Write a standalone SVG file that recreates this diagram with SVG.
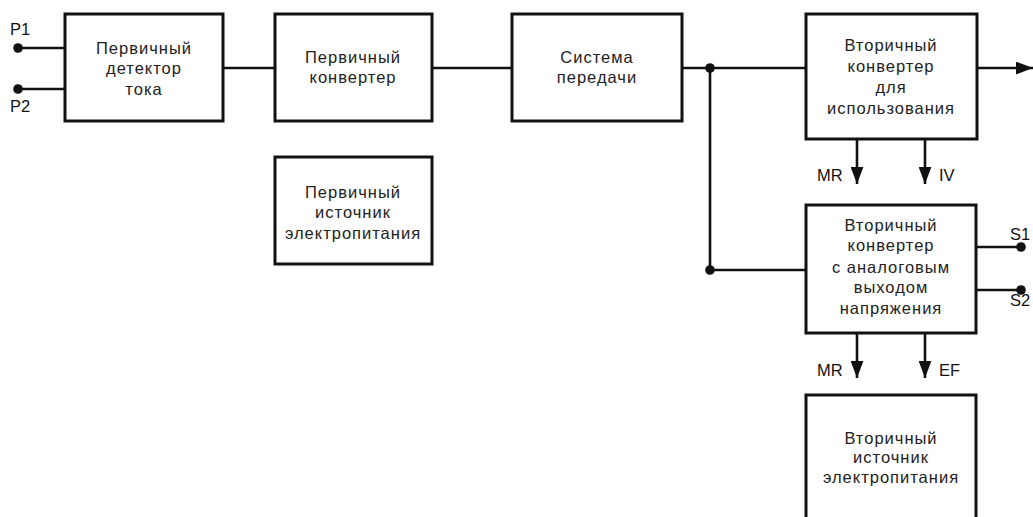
<svg xmlns="http://www.w3.org/2000/svg" width="1033" height="517" viewBox="0 0 1033 517">
<style>
.box{fill:#fff;stroke:#111;stroke-width:3}
.ln{fill:none;stroke:#111;stroke-width:2.6}
.t{font-family:"Liberation Sans",Arial,sans-serif;font-size:16.5px;fill:#222;text-anchor:middle;letter-spacing:1px}
.lb{font-family:"Liberation Sans",Arial,sans-serif;font-size:16.5px;fill:#111}
.dot{fill:#111}
</style>
<defs>
<marker id="ahd" viewBox="0 0 16 12" refX="16" refY="6" markerWidth="17" markerHeight="13" markerUnits="userSpaceOnUse" orient="auto">
<path d="M0,0 L16,6 L0,12 Z" fill="#111"/>
</marker>
</defs>
<g id="connectors">
<line class="ln" x1="18" y1="48" x2="65" y2="48"/>
<line class="ln" x1="18" y1="89" x2="65" y2="89"/>
<circle class="dot" cx="18" cy="48" r="4.8"/>
<circle class="dot" cx="18" cy="89" r="4.8"/>
<line class="ln" x1="223" y1="68" x2="275" y2="68"/>
<line class="ln" x1="432" y1="68" x2="512" y2="68"/>
<line class="ln" x1="682" y1="68" x2="806" y2="68"/>
<polyline class="ln" points="710,68 710,270 806,270"/>
<circle class="dot" cx="710" cy="68" r="4.8"/>
<circle class="dot" cx="710" cy="270" r="4.8"/>
<line class="ln" x1="977" y1="68" x2="1033" y2="68" marker-end="url(#ahd)"/>
<line class="ln" x1="857" y1="139" x2="857" y2="184" marker-end="url(#ahd)"/>
<line class="ln" x1="925" y1="139" x2="925" y2="184" marker-end="url(#ahd)"/>
<line class="ln" x1="857" y1="333" x2="857" y2="378" marker-end="url(#ahd)"/>
<line class="ln" x1="925" y1="333" x2="925" y2="378" marker-end="url(#ahd)"/>
<line class="ln" x1="976" y1="247" x2="1021" y2="247"/>
<line class="ln" x1="976" y1="290" x2="1021" y2="290"/>
<circle class="dot" cx="1021" cy="247" r="4.8"/>
<circle class="dot" cx="1021" cy="290" r="4.8"/>
</g>
<g id="labels">
<text class="lb" x="10" y="35">P1</text>
<text class="lb" x="10" y="112">P2</text>
<text class="lb" x="817" y="181">MR</text>
<text class="lb" x="939" y="181">IV</text>
<text class="lb" x="1010" y="240">S1</text>
<text class="lb" x="1010" y="306">S2</text>
<text class="lb" x="817" y="376">MR</text>
<text class="lb" x="939" y="376">EF</text>
</g>
<g id="n1">
<rect class="box" x="65" y="14" width="158" height="107"/>
<text class="t" x="144" y="54">Первичный</text>
<text class="t" x="144" y="74">детектор</text>
<text class="t" x="144" y="95">тока</text>
</g>
<g id="n2">
<rect class="box" x="275" y="14" width="157" height="107"/>
<text class="t" x="353" y="63">Первичный</text>
<text class="t" x="353" y="83">конвертер</text>
</g>
<g id="n3">
<rect class="box" x="512" y="14" width="170" height="107"/>
<text class="t" x="597" y="63">Система</text>
<text class="t" x="597" y="83">передачи</text>
</g>
<g id="n4">
<rect class="box" x="806" y="14" width="171" height="125"/>
<text class="t" x="891" y="51">Вторичный</text>
<text class="t" x="891" y="72">конвертер</text>
<text class="t" x="891" y="93">для</text>
<text class="t" x="891" y="114">использования</text>
</g>
<g id="n5">
<rect class="box" x="806" y="205" width="170" height="128"/>
<text class="t" x="891" y="231">Вторичный</text>
<text class="t" x="891" y="251">конвертер</text>
<text class="t" x="891" y="273">с аналоговым</text>
<text class="t" x="891" y="293">выходом</text>
<text class="t" x="891" y="314">напряжения</text>
</g>
<g id="n6">
<rect class="box" x="806" y="395" width="170" height="140"/>
<text class="t" x="891" y="444">Вторичный</text>
<text class="t" x="891" y="463">источник</text>
<text class="t" x="891" y="483">электропитания</text>
</g>
<g id="n7">
<rect class="box" x="275" y="157" width="157" height="107"/>
<text class="t" x="353" y="198">Первичный</text>
<text class="t" x="353" y="218">источник</text>
<text class="t" x="353" y="239">электропитания</text>
</g>
</svg>
